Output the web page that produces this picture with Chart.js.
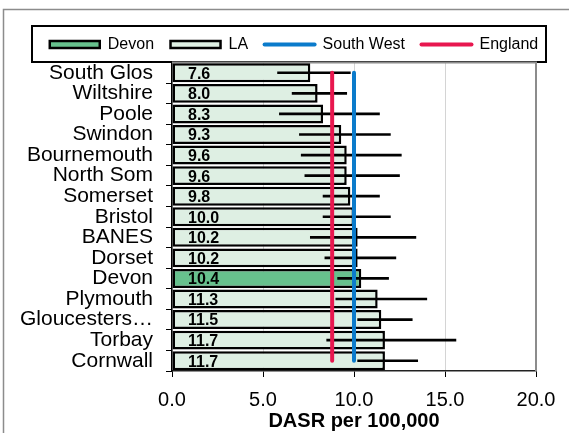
<!DOCTYPE html>
<html>
<head>
<meta charset="utf-8">
<script src="https://cdn.jsdelivr.net/npm/chart.js@4/dist/chart.umd.min.js"></script>
<style>
  html, body { margin: 0; padding: 0; background: #fff; }
  #wrap { width: 569px; height: 433px; position: relative; }
</style>
</head>
<body>
<div id="wrap"><canvas id="chart"></canvas></div>
<script>
// Values
const areas = ['South Glos', 'Wiltshire', 'Poole', 'Swindon', 'Bournemouth', 'North Som', 'Somerset',
    'Bristol', 'BANES', 'Dorset', 'Devon', 'Plymouth', 'Gloucesters…', 'Torbay', 'Cornwall'];
const rates = [7.6, 8.0, 8.3, 9.3, 9.6, 9.6, 9.8, 10.0, 10.2, 10.2, 10.4, 11.3, 11.5, 11.7, 11.7];
const ciLower = [5.8, 6.6, 5.9, 7.0, 7.1, 7.3, 8.3, 8.3, 7.6, 8.4, 9.1, 9.0, 10.2, 8.5, 10.2];
const ciUpper = [9.8, 9.6, 11.4, 12.0, 12.6, 12.5, 11.4, 12.0, 13.4, 12.3, 11.9, 14.0, 13.2, 15.6, 13.5];
const southWest = 10.0;
const england = 8.8;
const xTicks = [0, 5, 10, 15, 20];
const highlight = 'Devon';

// Colours
const laFill = '#deefe3';
const devonFill = '#67c18d';
const swColour = '#0b7bcb';
const engColour = '#e8174f';

Chart.defaults.font.family = '"Liberation Sans", Arial, sans-serif';
Chart.defaults.color = '#000';

// Frame round the whole chart and the box round the legend
const framePlugin = {
    id: 'frame',
    afterLayout(chart) {
        // legend row sits a little right of centre in the original
        chart.legend.left += 26;
        chart.legend.right += 26;
    },
    beforeDraw(chart) {
        const ctx = chart.ctx;
        ctx.save();
        ctx.strokeStyle = '#8c8c8c';
        ctx.lineWidth = 1.5;
        ctx.strokeRect(3.5, 9.5, 700, 600);
        ctx.strokeStyle = '#000';
        ctx.lineWidth = 2;
        ctx.strokeRect(32, 26, 514, 36);
        ctx.restore();
    },
    beforeDatasetsDraw(chart) {
        const a = chart.chartArea;
        const ctx = chart.ctx;
        ctx.save();
        ctx.strokeStyle = '#8c8c8c';
        ctx.lineWidth = 2;
        ctx.beginPath();
        ctx.moveTo(a.left, a.top);
        ctx.lineTo(a.right, a.top);
        ctx.lineTo(a.right, a.bottom);
        ctx.stroke();
        ctx.restore();
    }
};

// Value printed inside each bar, near its left end
const valueLabels = {
    id: 'valueLabels',
    afterDatasetsDraw(chart) {
        const ctx = chart.ctx;
        const meta = chart.getDatasetMeta(0);
        const x0 = chart.scales.x.getPixelForValue(0);
        ctx.save();
        ctx.font = 'bold 16px "Liberation Sans", Arial, sans-serif';
        ctx.fillStyle = '#000';
        ctx.textAlign = 'left';
        ctx.textBaseline = 'middle';
        meta.data.forEach((bar, i) => {
            ctx.fillText(rates[i].toFixed(1), x0 + 16, bar.y + 1.5);
        });
        ctx.restore();
    }
};

new Chart(document.getElementById('chart'), {
    type: 'bar',
    data: {
        labels: areas,
        datasets: [
            {
                label: 'LA',
                data: rates,
                backgroundColor: areas.map(a => a === highlight ? devonFill : laFill),
                borderColor: '#000',
                borderWidth: 2.5,
                borderSkipped: false,
                barPercentage: 0.92,
                categoryPercentage: 1,
                grouped: false,
                order: 3
            },
            {
                label: 'CI',
                data: ciLower.map((lo, i) => [lo, ciUpper[i]]),
                backgroundColor: '#000',
                borderWidth: 0,
                barThickness: 2,
                grouped: false,
                order: 2
            },
            {
                type: 'line',
                label: 'South West',
                indexAxis: 'y',
                data: areas.map(() => southWest),
                borderColor: swColour,
                borderWidth: 4,
                borderCapStyle: 'round',
                pointRadius: 0,
                order: 1
            },
            {
                type: 'line',
                label: 'England',
                indexAxis: 'y',
                data: areas.map(() => england),
                borderColor: engColour,
                borderWidth: 4,
                borderCapStyle: 'round',
                pointRadius: 0,
                order: 0
            }
        ]
    },
    options: {
        indexAxis: 'y',
        responsive: true,
        maintainAspectRatio: false,
        animation: false,
        layout: { padding: { left: 0, right: 33, top: 20, bottom: 0 } },
        plugins: {
            tooltip: { enabled: false },
            legend: {
                position: 'top',
                labels: {
                    usePointStyle: true,
                    pointStyleWidth: 50,
                    boxHeight: 7,
                    padding: 16.5,
                    font: { size: 16 },
                    color: '#000',
                    generateLabels: () => [
                        { text: 'Devon', fillStyle: devonFill, strokeStyle: '#000', lineWidth: 2.5, pointStyle: 'rect', datasetIndex: 0 },
                        { text: 'LA', fillStyle: laFill, strokeStyle: '#000', lineWidth: 2.5, pointStyle: 'rect', datasetIndex: 0 },
                        { text: 'South West', fillStyle: swColour, strokeStyle: swColour, lineWidth: 4, lineCap: 'round', pointStyle: 'line', datasetIndex: 2 },
                        { text: 'England', fillStyle: engColour, strokeStyle: engColour, lineWidth: 4, lineCap: 'round', pointStyle: 'line', datasetIndex: 3 }
                    ]
                }
            }
        },
        scales: {
            x: {
                min: 0,
                max: 20,
                afterBuildTicks: scale => { scale.ticks = xTicks.map(v => ({ value: v })); },
                afterFit: scale => { scale.height = 62; },
                ticks: {
                    callback: v => v.toFixed(1),
                    font: { size: 20 },
                    color: '#000',
                    padding: 11,
                    maxRotation: 0
                },
                grid: { color: '#d4d4d4', lineWidth: 1, tickColor: '#000', tickLength: 6 },
                border: { color: '#222', width: 1.5 },
                title: {
                    display: true,
                    text: 'DASR per 100,000',
                    font: { size: 20, weight: 'bold' },
                    color: '#000',
                    padding: { top: 0, bottom: 0 }
                }
            },
            y: {
                afterFit: scale => { scale.width = 172; },
                ticks: {
                    font: { size: 21 },
                    color: '#000',
                    padding: 13,
                    autoSkip: false
                },
                grid: { drawOnChartArea: false, tickColor: '#000', tickLength: 6, offset: true },
                border: { color: '#000', width: 1.5 }
            }
        }
    },
    plugins: [framePlugin, valueLabels]
});
</script>
</body>
</html>
